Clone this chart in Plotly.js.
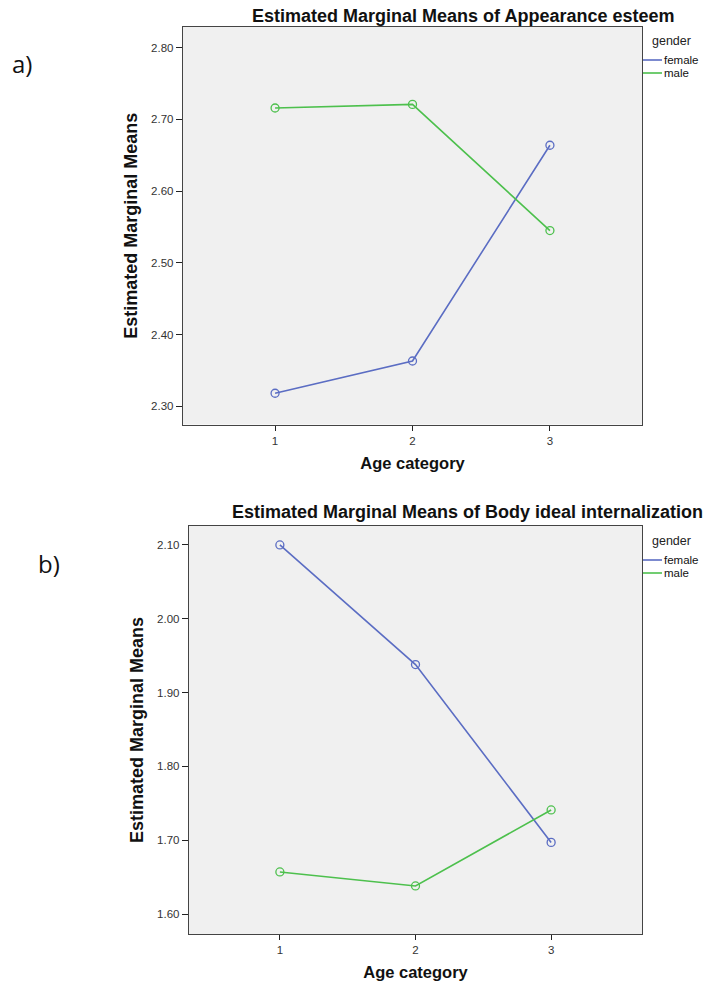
<!DOCTYPE html>
<html>
<head>
<meta charset="utf-8">
<script src="https://cdn.plot.ly/plotly-3.0.1.min.js"></script>
<style>
html,body{margin:0;padding:0;background:#fff;}
#chart{width:706px;height:981px;}
</style>
</head>
<body>
<div id="chart"></div>
<script>
// ---- data ----
const ageCategories = [1, 2, 3];
const seriesNames = ["female", "male"];
const appearanceFemale = [2.318, 2.363, 2.664];
const appearanceMale = [2.716, 2.721, 2.545];
const bodyIdealFemale = [2.100, 1.938, 1.697];
const bodyIdealMale = [1.657, 1.638, 1.741];
const appearanceTicks = [2.30, 2.40, 2.50, 2.60, 2.70, 2.80];
const bodyIdealTicks = [1.60, 1.70, 1.80, 1.90, 2.00, 2.10];
const titleA = "Estimated Marginal Means of Appearance esteem";
const titleB = "Estimated Marginal Means of Body ideal internalization";
const yTitle = "Estimated Marginal Means";
const xTitle = "Age category";
const legendTitle = "gender";
const panelLabels = ["a)", "b)"];

const colors = {female: "#5b6dc3", male: "#4dc04d"};
const FONT = "Liberation Sans, Arial, sans-serif";

function series(x, y, name, color, xa, ya) {
  return {
    x: x, y: y, name: name, type: "scatter", mode: "lines+markers",
    xaxis: xa, yaxis: ya, showlegend: false,
    line: {color: color, width: 1.6},
    marker: {symbol: "circle-open", size: 8, color: color, line: {width: 1.3, color: color}}
  };
}

const traces = [
  series(ageCategories, appearanceFemale, seriesNames[0], colors.female, "x", "y"),
  series(ageCategories, appearanceMale, seriesNames[1], colors.male, "x", "y"),
  series(ageCategories, bodyIdealFemale, seriesNames[0], colors.female, "x2", "y2"),
  series(ageCategories, bodyIdealMale, seriesNames[1], colors.male, "x2", "y2")
];

function xAxis(domain, anchor) {
  return {
    domain: domain, anchor: anchor, range: [0.33, 3.67],
    tickvals: ageCategories, ticktext: ageCategories.map(String),
    ticks: "outside", ticklen: 5, tickwidth: 1, tickcolor: "#222",
    showline: true, mirror: true, linecolor: "#444", linewidth: 1.2,
    showgrid: false, zeroline: false,
    tickfont: {family: FONT, size: 11.5, color: "#333"},
    title: {text: xTitle, font: {family: FONT, size: 16.5, color: "#111", weight: "bold"}, standoff: 12}
  };
}
function yAxis(domain, anchor, range, ticks) {
  return {
    domain: domain, anchor: anchor, range: range,
    tickvals: ticks, ticktext: ticks.map(v => v.toFixed(2)),
    ticks: "outside", ticklen: 6, tickwidth: 1, tickcolor: "#222",
    showline: true, mirror: true, linecolor: "#444", linewidth: 1.2,
    showgrid: false, zeroline: false,
    tickfont: {family: FONT, size: 11.5, color: "#333"},
    title: {text: yTitle, font: {family: FONT, size: 18, color: "#111", weight: "bold"}, standoff: 8}
  };
}

const W = 706, H = 981;
const px = v => v / W, py = v => 1 - v / H;

const annotations = [
  {text: "<b>" + titleA + "</b>", xref: "paper", yref: "paper", x: px(463), y: py(16), xanchor: "center", yanchor: "middle", showarrow: false, font: {family: FONT, size: 18, color: "#111"}},
  {text: "<b>" + titleB + "</b>", xref: "paper", yref: "paper", x: px(467), y: py(512), xanchor: "center", yanchor: "middle", showarrow: false, font: {family: FONT, size: 18, color: "#111"}},
  {text: panelLabels[0], xref: "paper", yref: "paper", x: px(10), y: py(63), xanchor: "left", yanchor: "middle", showarrow: false, font: {family: "Open Sans, sans-serif", size: 24, color: "#111"}},
  {text: panelLabels[1], xref: "paper", yref: "paper", x: px(36), y: py(563), xanchor: "left", yanchor: "middle", showarrow: false, font: {family: "Open Sans, sans-serif", size: 24, color: "#111"}}
];
const shapes = [];
// legends for both panels
[[41, 60, 73], [541, 560, 573]].forEach(rows => {
  annotations.push({text: legendTitle, xref: "paper", yref: "paper", x: px(650), y: py(rows[0]), xanchor: "left", yanchor: "middle", showarrow: false, font: {family: FONT, size: 12.5, color: "#222"}});
  seriesNames.forEach((n, i) => {
    const yy = py(rows[i + 1]);
    shapes.push({type: "line", xref: "paper", yref: "paper", x0: px(643), x1: px(662), y0: yy, y1: yy, line: {color: colors[n], width: 1.6}});
    annotations.push({text: n, xref: "paper", yref: "paper", x: px(662), y: yy, xanchor: "left", yanchor: "middle", showarrow: false, font: {family: FONT, size: 11.5, color: "#111"}});
  });
});

const layout = {
  width: W, height: H,
  margin: {l: 0, r: 0, t: 0, b: 0},
  paper_bgcolor: "#ffffff",
  plot_bgcolor: "#f0f0f0",
  showlegend: false,
  xaxis: xAxis([px(183), px(642)], "y"),
  yaxis: yAxis([1 - 424.5 / H, 1 - 27 / H], "x", [2.2744, 2.829], appearanceTicks),
  xaxis2: xAxis([px(189), px(642)], "y2"),
  yaxis2: yAxis([1 - 934 / H, 1 - 526 / H], "x2", [1.5729, 2.1257], bodyIdealTicks),
  annotations: annotations,
  shapes: shapes
};

Plotly.newPlot("chart", traces, layout, {displayModeBar: false, staticPlot: true});
</script>
</body>
</html>
